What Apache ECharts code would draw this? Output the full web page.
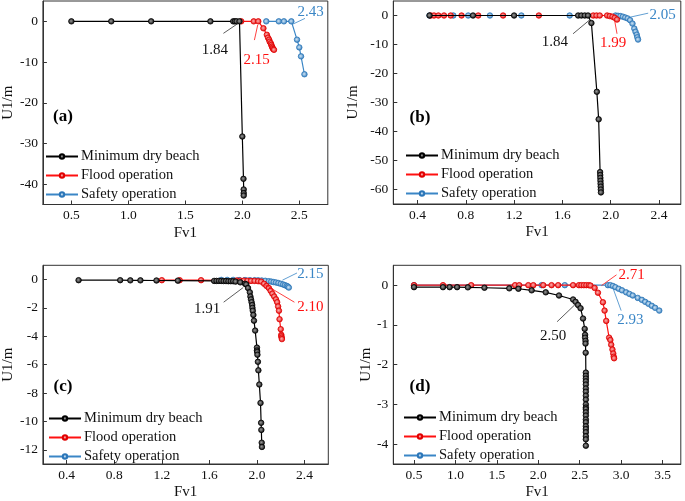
<!DOCTYPE html>
<html><head><meta charset="utf-8">
<script src="https://cdn.jsdelivr.net/npm/echarts@6/dist/echarts.min.js"></script>
<style>html,body{margin:0;padding:0;background:#fff}#c{width:685px;height:501px}</style>
</head><body><div id="c"></div>
<script>
const seriesNames = ['Minimum dry beach', 'Flood operation', 'Safety operation'];
const panelLabels = ['(a)', '(b)', '(c)', '(d)'];

// ---- panel (a)
const aBlack = [[0.5,0],[0.85,0],[1.2,0],[1.72,0],[1.92,0],[1.935,0],[1.95,0],[1.975,0],[2.0,-28.3],[2.01,-38.7],[2.012,-41.3],[2.012,-42.2],[2.012,-42.8]];
const aRed = [[1.99,0],[2.10,0],[2.14,0],[2.185,-1.7],[2.215,-3.3],[2.225,-4.0],[2.235,-4.5],[2.24,-5.0],[2.25,-5.4],[2.255,-5.8],[2.26,-6.2],[2.265,-6.5],[2.27,-6.8],[2.278,-7.0]];
const aBlue = [[2.21,0],[2.32,0],[2.365,0],[2.43,0],[2.48,-4.5],[2.50,-6.4],[2.515,-8.6],[2.545,-13]];
const aNotes = [
  {text:'1.84', from:[1.963,-0.5], to:[1.834,-2.95], at:[1.76,-7.1]},
  {text:'2.15', from:[2.135,-0.9], to:[2.106,-4.6], at:[2.126,-9.5]},
  {text:'2.43', from:[2.445,-0.66], to:[2.55,0.73], at:[2.60,2.3]}
];
// ---- panel (b)
const bBlack = [[0.5,0],[0.86,0],[1.2,0],[1.73,0],[1.757,0],[1.785,0],[1.812,0],[1.84,-2.6],[1.885,-26.3],[1.9,-35.8],[1.912,-54],[1.913,-55],[1.914,-56],[1.915,-57],[1.916,-58],[1.917,-59],[1.918,-60],[1.919,-61]];
const bRed = [[0.51,0],[0.537,0],[0.573,0],[0.62,0],[0.675,0],[0.765,0],[0.903,0],[1.109,0],[1.405,0],[1.855,0],[1.882,0],[1.909,0],[1.97,0],[1.992,-0.2],[2.014,-0.4],[2.033,-0.8],[2.052,-1.4]];
const bBlue = [[0.5,0],[0.697,0],[0.82,0],[1.0,0],[1.26,0],[1.66,0],[2.04,0],[2.06,-0.1],[2.08,-0.2],[2.10,-0.4],[2.12,-0.7],[2.14,-1.0],[2.16,-1.6],[2.18,-2.8],[2.195,-4.5],[2.205,-5.6],[2.215,-6.6],[2.22,-7.5],[2.226,-8.3]];
const bNotes = [
  {text:'1.84', from:[1.826,-1.5], to:[1.688,-6.3], at:[1.537,-9.1]},
  {text:'1.99', from:[2.033,-1.9], to:[2.052,-6.3], at:[2.02,-9.6]},
  {text:'2.05', from:[2.158,-0.6], to:[2.31,0.8], at:[2.43,0]}
];
// ---- panel (c)
const cBlack = [[0.5,-0.05],[0.85,-0.05],[0.935,-0.06],[1.02,-0.06],[1.155,-0.07],[1.335,-0.08],[1.64,-0.1],[1.66,-0.1],[1.68,-0.1],[1.70,-0.1],[1.72,-0.11],[1.74,-0.11],[1.76,-0.12],[1.78,-0.12],[1.80,-0.12],[1.82,-0.15],[1.86,-0.2],[1.90,-0.3],[1.91,-0.35],[1.925,-0.6],[1.94,-0.9],[1.945,-1.2],[1.95,-1.4],[1.955,-1.6],[1.96,-1.8],[1.962,-2.0],[1.965,-2.2],[1.97,-2.5],[1.975,-2.9],[1.985,-3.6],[2.0,-4.8],[2.0,-5.0],[2.002,-5.1],[2.004,-5.3],[2.008,-5.8],[2.012,-6.4],[2.02,-7.4],[2.03,-8.7],[2.035,-10.1],[2.037,-10.6],[2.04,-11.5],[2.042,-11.8]];
const cRed = [[1.2,-0.05],[1.35,-0.05],[1.53,-0.05],[1.83,-0.07],[1.86,-0.08],[1.89,-0.08],[1.92,-0.09],[1.95,-0.1],[1.98,-0.1],[2.01,-0.12],[2.035,-0.15],[2.06,-0.3],[2.08,-0.45],[2.1,-0.6],[2.115,-0.8],[2.13,-1.0],[2.145,-1.2],[2.16,-1.4],[2.17,-1.6],[2.178,-1.9],[2.185,-2.2],[2.19,-2.8],[2.2,-3.5],[2.205,-3.9],[2.205,-4.0],[2.208,-4.1],[2.21,-4.2]];
const cBlue = [[1.70,-0.03],[1.75,-0.03],[1.80,-0.03],[1.85,-0.04],[1.90,-0.04],[1.94,-0.05],[1.98,-0.05],[2.01,-0.06],[2.04,-0.07],[2.07,-0.09],[2.10,-0.12],[2.12,-0.15],[2.14,-0.18],[2.16,-0.21],[2.18,-0.25],[2.20,-0.3],[2.22,-0.35],[2.235,-0.4],[2.25,-0.45],[2.26,-0.5],[2.268,-0.57]];
const cNotes = [
  {text:'1.91', from:[1.884,-0.57], to:[1.72,-1.6], at:[1.58,-2.05]},
  {text:'2.10', from:[2.062,-0.34], to:[2.315,-1.6], at:[2.45,-1.95]},
  {text:'2.15', from:[2.214,-0.05], to:[2.337,0.46], at:[2.45,0.41]}
];
// ---- panel (d)
const dBlack = [[0.5,-0.05],[0.85,-0.05],[0.93,-0.05],[1.02,-0.05],[1.15,-0.055],[1.35,-0.065],[1.65,-0.08],[1.76,-0.09],[1.92,-0.13],[2.09,-0.18],[2.25,-0.26],[2.42,-0.36],[2.45,-0.42],[2.48,-0.5],[2.51,-0.58],[2.54,-0.84],[2.56,-1.1],[2.565,-1.25],[2.565,-1.32],[2.57,-1.4],[2.57,-1.47],[2.572,-1.7],[2.574,-2.2],[2.574,-2.28],[2.574,-2.35],[2.574,-2.42],[2.574,-2.5],[2.574,-2.6],[2.574,-2.68],[2.574,-2.78],[2.574,-2.88],[2.574,-3.0],[2.574,-3.08],[2.574,-3.12],[2.574,-3.2],[2.574,-3.28],[2.574,-3.38],[2.574,-3.45],[2.574,-3.55],[2.574,-3.62],[2.574,-3.7],[2.574,-3.8],[2.574,-3.88],[2.574,-4.04]];
const dRed = [[0.5,0],[0.85,0],[1.19,0],[1.72,0],[1.77,0],[1.88,0],[1.94,0],[2.06,0],[2.16,0],[2.24,0],[2.42,0],[2.49,0],[2.52,0],[2.55,0],[2.58,0],[2.61,0],[2.63,-0.01],[2.68,-0.07],[2.72,-0.19],[2.78,-0.43],[2.80,-0.64],[2.82,-0.9],[2.855,-1.32],[2.87,-1.38],[2.88,-1.5],[2.895,-1.62],[2.905,-1.72],[2.91,-1.8],[2.915,-1.84]];
const dBlue = [[0.5,0],[2.04,0],[2.32,0],[2.84,0],[2.87,0],[2.90,-0.02],[2.93,-0.05],[2.97,-0.09],[3.01,-0.13],[3.06,-0.18],[3.1,-0.22],[3.14,-0.26],[3.2,-0.32],[3.25,-0.37],[3.29,-0.42],[3.33,-0.47],[3.37,-0.52],[3.41,-0.57],[3.46,-0.64]];
const dNotes = [
  {text:'2.50', from:[2.453,-0.47], to:[2.227,-0.92], at:[2.18,-1.27]},
  {text:'2.71', from:[2.763,-0.01], to:[2.944,0.26], at:[3.125,0.26]},
  {text:'2.93', from:[2.90,-0.065], to:[3.0,-0.64], at:[3.11,-0.88]}
];

// axis ranges and tick steps
const xRanges = [[0.25, 2.75], [0.2, 2.58], [0.2, 2.6], [0.25, 3.72]];
const xSteps = [0.5, 0.4, 0.4, 0.5];
const yRanges = [[-45, 5], [-65, 5], [-13, 1], [-4.5, 0.5]];
const ySteps = [10, 10, 2, 1];

const panelData = [[aBlack, aRed, aBlue], [bBlack, bRed, bBlue], [cBlack, cRed, cBlue], [dBlack, dRed, dBlue]];
const panelNotes = [aNotes, bNotes, cNotes, dNotes];

// layout
const grids = [
  {left: 37.3, top: 1, width: 290.5, height: 203.5},
  {left: 393.3, top: 1, width: 287.5, height: 203},
  {left: 37.3, top: 265.3, width: 291, height: 203},
  {left: 393.3, top: 265.3, width: 287.5, height: 203.3}
];
const yNameGaps = [21, 33, 23, 18];
const legendPos = [[45, 149], [405, 148], [48, 411], [403, 410]];
const labelPos = [[63, 117], [420, 118], [63, 387], [420, 387]];

const FONT = '"Liberation Serif", "Times New Roman", serif';
const lineColors = ['#000000', '#ff1010', '#3a86c6'];
const innerColors = ['#9a9a9a', '#ffb0b0', '#cfe5f6'];
const edgeColors = ['#000000', '#e00000', '#2b76b8'];
const zs = [4, 3, 2];

const option = {
  animation: false,
  backgroundColor: '#fff',
  grid: [], xAxis: [], yAxis: [], series: [], legend: [], graphic: []
};

for (let p = 0; p < 4; p++) {
  option.grid.push(Object.assign({show: true, borderColor: '#333', borderWidth: 1, backgroundColor: 'transparent'}, grids[p]));
  option.xAxis.push({
    type: 'value', gridIndex: p, min: xRanges[p][0], max: xRanges[p][1],
    minInterval: xSteps[p], maxInterval: xSteps[p], splitNumber: 6,
    name: 'Fv1', nameLocation: 'middle', nameGap: 21,
    nameTextStyle: {fontFamily: FONT, fontSize: 15, color: '#111'},
    axisLine: {show: true, onZero: false, lineStyle: {color: '#333', width: 1}},
    axisTick: {show: true, inside: true, length: 4, lineStyle: {color: '#333'}},
    axisLabel: {fontFamily: FONT, fontSize: 13.5, color: '#111', margin: 4,
      showMinLabel: false, showMaxLabel: false, formatter: v => v.toFixed(1)},
    splitLine: {show: false}
  });
  option.yAxis.push({
    type: 'value', gridIndex: p, min: yRanges[p][0], max: yRanges[p][1],
    minInterval: ySteps[p], maxInterval: ySteps[p], splitNumber: 6,
    name: 'U1/m', nameLocation: 'middle', nameGap: yNameGaps[p], nameRotate: 90,
    nameTextStyle: {fontFamily: FONT, fontSize: 15, color: '#111'},
    axisLine: {show: true, onZero: false, lineStyle: {color: '#333', width: 1}},
    axisTick: {show: true, inside: true, length: 4, lineStyle: {color: '#333'}},
    axisLabel: {fontFamily: FONT, fontSize: 13.5, color: '#111', margin: 5,
      showMinLabel: false, showMaxLabel: false},
    splitLine: {show: false}
  });
  for (let s = 0; s < 3; s++) {
    const note = panelNotes[p][s];
    option.series.push({
      type: 'line', name: seriesNames[s], xAxisIndex: p, yAxisIndex: p, z: zs[s],
      data: panelData[p][s], symbol: 'circle', symbolSize: 5.5, showSymbol: true,
      lineStyle: {color: lineColors[s], width: 1.2},
      itemStyle: {
        color: {type: 'radial', x: 0.45, y: 0.45, r: 0.55, colorStops: [
          {offset: 0, color: innerColors[s]}, {offset: 1, color: edgeColors[s]}]},
        borderColor: edgeColors[s], borderWidth: 0.8
      },
      emphasis: {disabled: true},
      markLine: {
        silent: true, symbol: ['none', 'arrow'], symbolSize: [0, 6],
        label: {show: false},
        lineStyle: {color: s === 0 ? '#333' : lineColors[s], width: 0.8, type: 'solid'},
        data: [[{coord: note.from}, {coord: note.to}]]
      },
      markPoint: {
        silent: true, symbol: 'circle', symbolSize: 1,
        itemStyle: {color: 'rgba(0,0,0,0)'},
        label: {show: true, position: 'inside', formatter: note.text,
          fontFamily: FONT, fontSize: 15, color: s === 0 ? '#111' : lineColors[s]},
        data: [{coord: note.at, value: note.text}]
      }
    });
  }
  option.legend.push({
    data: seriesNames, orient: 'vertical', left: legendPos[p][0], top: legendPos[p][1],
    itemWidth: 32, itemHeight: 5.5, itemGap: 4, padding: 0, selectedMode: false,
    textStyle: {fontFamily: FONT, fontSize: 14.5, color: '#111', padding: [0, 0, 0, -2]}
  });
  option.graphic.push({
    type: 'text', x: labelPos[p][0], y: labelPos[p][1],
    style: {text: panelLabels[p], font: 'bold 17px ' + FONT, fill: '#000',
      textAlign: 'center', textVerticalAlign: 'middle'}
  });
}

const chart = echarts.init(document.getElementById('c'), null, {renderer: 'canvas'});
chart.setOption(option);
</script>
</body></html>
